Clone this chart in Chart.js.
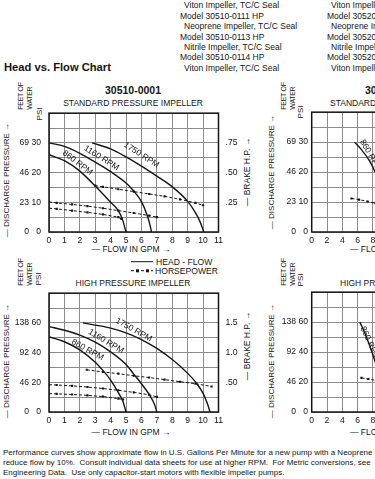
<!DOCTYPE html>
<html>
<head>
<meta charset="utf-8">
<script src="https://cdn.jsdelivr.net/npm/chart.js@4.4.1/dist/chart.umd.min.js"></script>
<style>
html, body { margin: 0; padding: 0; overflow: hidden; background: #fff; }
body { position: relative; width: 375px; height: 479px; font-family: "Liberation Sans", Arial, sans-serif; color: #151515; }
canvas { position: absolute; }
.t { position: absolute; white-space: nowrap; font-size: 8.5px; line-height: 1; }
.l { transform: translateY(-50%); }
.c { transform: translate(-50%, -50%); }
.r { transform: translate(-50%, -50%) rotate(-90deg); }
.b { font-weight: bold; }
.feet { font-size: 7px; line-height: 8.5px; letter-spacing: -0.3px; text-align: left; }
.p { font-size: 8px; left: 3px; }
</style>
</head>
<body>

<!-- model list -->
<div class="t l" style="left:184px;top:5px">Viton Impeller, TC/C Seal</div>
<div class="t l" style="left:180px;top:15.7px">Model 30510-0111 HP</div>
<div class="t l" style="left:184px;top:26px">Neoprene Impeller, TC/C Seal</div>
<div class="t l" style="left:180px;top:36.7px">Model 30510-0113 HP</div>
<div class="t l" style="left:184px;top:47px">Nitrile Impeller, TC/C Seal</div>
<div class="t l" style="left:180px;top:57.3px">Model 30510-0114 HP</div>
<div class="t l" style="left:184px;top:68.3px">Viton Impeller, TC/C Seal</div>

<div class="t l" style="left:331px;top:5px">Viton Impeller, TC/C Seal</div>
<div class="t l" style="left:327px;top:15.7px">Model 30520-0111 HP</div>
<div class="t l" style="left:331px;top:26px">Neoprene Impeller, TC/C Seal</div>
<div class="t l" style="left:327px;top:36.7px">Model 30520-0113 HP</div>
<div class="t l" style="left:331px;top:47px">Nitrile Impeller, TC/C Seal</div>
<div class="t l" style="left:327px;top:57.3px">Model 30520-0114 HP</div>
<div class="t l" style="left:331px;top:68.3px">Viton Impeller, TC/C Seal</div>

<div class="t l b" style="left:4px;top:68px;font-size:11.2px">Head vs. Flow Chart</div>

<!-- left column titles -->
<div class="t c b" style="left:133px;top:90px;font-size:10.5px">30510-0001</div>
<div class="t c" style="left:133px;top:102.5px">STANDARD PRESSURE IMPELLER</div>
<div class="t c" style="left:131px;top:249px">— FLOW IN GPM →</div>
<div class="t c" style="left:133px;top:282.5px">HIGH PRESSURE IMPELLER</div>
<div class="t c" style="left:131px;top:432px">— FLOW IN GPM →</div>

<div class="t r feet" style="left:25px;top:96px">FEET OF<br>WATER</div>
<div class="t r" style="left:40px;top:113.5px;font-size:8px">PSI</div>
<div class="t r" style="left:7px;top:180px;font-size:8px">— DISCHARGE PRESSURE →</div>
<div class="t r" style="left:247px;top:172px">— BRAKE H.P. →</div>

<div class="t r feet" style="left:25px;top:272px">FEET OF<br>WATER</div>
<div class="t r" style="left:39px;top:279px;font-size:8px">PSI</div>
<div class="t r" style="left:7px;top:361px;font-size:8px">— DISCHARGE PRESSURE →</div>
<div class="t r" style="left:247px;top:346px">— BRAKE H.P. →</div>

<!-- legend -->
<svg style="position:absolute;left:131px;top:257px" width="24" height="18">
  <line x1="0" y1="4.7" x2="22" y2="4.7" stroke="#151515" stroke-width="1"/>
  <line x1="0" y1="13.7" x2="22" y2="13.7" stroke="#151515" stroke-width="1" stroke-dasharray="3 2"/>
  <rect x="5" y="12.3" width="3" height="3" fill="#151515"/>
  <rect x="15" y="12.3" width="3" height="3" fill="#151515"/>
</svg>
<div class="t l" style="left:156px;top:261.7px;font-size:8.6px">HEAD - FLOW</div>
<div class="t l" style="left:155px;top:270.7px;font-size:8.6px">HORSEPOWER</div>

<!-- right column titles (cut off by the page edge) -->
<div class="t l b" style="left:365px;top:90px;font-size:10.5px">30520-0001</div>
<div class="t l" style="left:330px;top:102.5px">STANDARD PRESSURE IMPELLER</div>
<div class="t l" style="left:340px;top:282.5px">HIGH PRESSURE IMPELLER</div>
<div class="t l" style="left:350px;top:249px">— FLOW IN GPM →</div>
<div class="t l" style="left:350px;top:432px">— FLOW IN GPM →</div>

<div class="t r feet" style="left:288px;top:96px">FEET OF<br>WATER</div>
<div class="t r" style="left:301px;top:112px;font-size:8px">PSI</div>
<div class="t r" style="left:272px;top:172px;font-size:8px">— DISCHARGE PRESSURE →</div>
<div class="t r feet" style="left:288px;top:272px">FEET OF<br>WATER</div>
<div class="t r" style="left:301px;top:280px;font-size:8px">PSI</div>
<div class="t r" style="left:272px;top:361px;font-size:8px">— DISCHARGE PRESSURE →</div>

<canvas id="stdChart" width="260" height="150" style="left:0;top:100px"></canvas>
<canvas id="highChart" width="260" height="150" style="left:0;top:280px"></canvas>
<canvas id="stdChart2" width="260" height="150" style="left:262px;top:100px"></canvas>
<canvas id="highChart2" width="260" height="150" style="left:262px;top:280px"></canvas>

<div class="t l p" style="top:453px">Performance curves show approximate flow in U.S. Gallons Per Minute for a new pump with a Neoprene impeller. Nitrile and Viton impellers</div>
<div class="t l p" style="top:463px">reduce flow by 10%.&nbsp; Consult individual data sheets for use at higher RPM.&nbsp; For Metric conversions, see</div>
<div class="t l p" style="top:473px">Engineering Data.&nbsp; Use only capacitor-start motors with flexible impeller pumps.</div>

<script>
// [GPM, PSI]
const stdHead1750 = [[2.8, 30], [4, 28], [5, 25.3], [6, 22.2], [7, 18.8], [8, 15.2], [9, 10.3], [9.5, 6.5], [9.8, 3.5], [10.05, 0]];
const stdHead1160 = [[0, 30], [1, 28.8], [2, 26.5], [3, 23.5], [4, 20.3], [5, 16.5], [5.5, 13.8], [6, 10.2], [6.35, 5.9], [6.55, 2.5], [6.65, 0]];
const stdHead860 = [[0, 26], [1, 24], [2, 20.5], [3, 15.5], [3.5, 12.8], [4, 10], [4.45, 7.5], [4.75, 4.5], [5, 0]];
// [GPM, brake HP]
const stdHp1750 = [[3, 0.39], [3.5, 0.38], [4.5, 0.36], [5.5, 0.34], [6.5, 0.32], [7.5, 0.3], [8.5, 0.275], [9.5, 0.245], [10, 0.225]];
const stdHp1160 = [[0, 0.253], [0.5, 0.245], [1.5, 0.232], [2.5, 0.218], [3.5, 0.2], [4.5, 0.18], [5.5, 0.16], [6.5, 0.138], [7, 0.125]];
const stdHp860 = [[0, 0.2], [0.5, 0.195], [1.5, 0.18], [2.5, 0.165], [3.5, 0.148], [4.5, 0.125], [4.7, 0.11]];

const highHead1750 = [[2.2, 60], [3, 58.5], [4, 56.5], [5, 53.3], [6, 48.8], [7, 42.8], [8, 35.3], [9, 26], [9.6, 19], [10, 12.5], [10.3, 5], [10.45, 0]];
const highHead1160 = [[0, 57.5], [1, 55], [2, 51.7], [3, 47], [4, 40.5], [5, 32], [5.5, 25.5], [6, 19], [6.55, 11], [6.85, 5], [7, 0]];
const highHead860 = [[0, 50.5], [1, 47.3], [2, 41.8], [3, 33.5], [3.5, 28], [4, 21.5], [4.5, 13], [4.8, 7], [5, 0]];
const highHp1750 = [[2.45, 0.71], [3.5, 0.675], [4.5, 0.645], [5.5, 0.61], [6.5, 0.58], [7.5, 0.545], [8.5, 0.51], [9.5, 0.475], [10.55, 0.43]];
const highHp1160 = [[0, 0.46], [0.5, 0.455], [1.5, 0.44], [2.5, 0.42], [3.5, 0.395], [4.5, 0.365], [5.5, 0.33], [6.5, 0.29], [7, 0.255]];
const highHp860 = [[0, 0.31], [0.5, 0.305], [1.5, 0.295], [2.5, 0.28], [3.5, 0.26], [4.5, 0.225], [4.8, 0.21]];

// second pump, only the left part is on the page
const std2Head860 = [[5.6, 30], [6.5, 27.5], [7.5, 24], [8.3, 20], [9.5, 12], [10.3, 0]];
const std2Hp860 = [[5.2, 0.28], [6.2, 0.27], [7.3, 0.255], [8.3, 0.24], [9.5, 0.22]];
const high2Head860 = [[6.3, 60], [7, 52], [8, 38], [8.5, 30], [9.5, 10], [9.8, 0]];
const high2Hp860 = [[6.5, 0.57], [7.4, 0.55], [8.5, 0.525], [9.8, 0.49]];

// axis tick labels
const stdPsiTicks = [0, 10, 20, 30];
const stdFeetTicks = ['0', '23', '46', '69'];
const stdHpTicks = [0.25, 0.5, 0.75];
const stdHpLabels = ['.25', '.50', '.75'];
const highPsiTicks = [0, 20, 40, 60];
const highFeetTicks = ['0', '46', '92', '138'];
const highHpTicks = [0.5, 1, 1.5];
const highHpLabels = ['.50', '1.0', '1.5'];

// RPM captions along the curves: [GPM, PSI], angle in degrees
const stdRpmLabels = [
    { text: '1750 RPM', at: [6.0, 25.9], angle: 33 },
    { text: '1160 RPM', at: [3.4, 24.9], angle: 32 },
    { text: '860 RPM', at: [1.85, 23.3], angle: 37 }
];
const highRpmLabels = [
    { text: '1750 RPM', at: [5.5, 55.3], angle: 29 },
    { text: '1160 RPM', at: [3.7, 47.5], angle: 31 },
    { text: '860 RPM', at: [2.5, 41.8], angle: 29 }
];
const std2RpmLabels = [{ text: '860 RPM', at: [7.7, 25.5], angle: 60 }];
const high2RpmLabels = [{ text: '860 RPM', at: [7.6, 46], angle: 65 }];

Chart.defaults.font.family = '"Liberation Sans", Arial, sans-serif';
Chart.defaults.font.size = 8.6;
Chart.defaults.color = '#151515';

const INK = '#151515';
const GRID = '#8c8c8c';

// frame round the plot + rotated rpm captions
const curveText = {
    id: 'curveText',
    afterDatasetsDraw(chart, args, opts) {
        const { ctx, chartArea: a, scales } = chart;
        ctx.save();
        ctx.strokeStyle = INK;
        ctx.lineWidth = 1.5;
        ctx.strokeRect(a.left, a.top, a.right - a.left, a.bottom - a.top);
        ctx.fillStyle = INK;
        ctx.font = '8.5px "Liberation Sans", Arial, sans-serif';
        ctx.textAlign = 'center';
        ctx.textBaseline = 'middle';
        (opts.labels || []).forEach(l => {
            ctx.save();
            ctx.translate(scales.x.getPixelForValue(l.at[0]), scales.y.getPixelForValue(l.at[1]));
            ctx.rotate(l.angle * Math.PI / 180);
            ctx.fillText(l.text, 0, 0);
            ctx.restore();
        });
        ctx.restore();
    }
};

const pick = (list, labels, v) => {
    const i = list.findIndex(t => Math.abs(t - v) < 1e-6);
    return i < 0 ? '' : labels[i];
};
const toPoints = arr => arr.map(p => ({ x: p[0], y: p[1] }));

function pumpChart(id, o) {
    const datasets = [];
    o.head.forEach(h => datasets.push({
        data: toPoints(h), yAxisID: 'y', borderColor: INK, borderWidth: 1.4,
        pointRadius: 0, cubicInterpolationMode: 'monotone'
    }));
    o.hp.forEach(h => datasets.push({
        data: toPoints(h), yAxisID: 'hp', borderColor: INK, borderWidth: 1,
        borderDash: [3, 2], pointStyle: 'rect', pointRadius: 1.5,
        pointBackgroundColor: INK, pointBorderWidth: 0
    }));

    new Chart(document.getElementById(id), {
        type: 'line',
        data: { datasets },
        options: {
            responsive: false,
            animation: false,
            events: [],
            layout: { padding: o.pad },
            plugins: {
                legend: { display: false },
                tooltip: { enabled: false },
                curveText: { labels: o.labels }
            },
            scales: {
                x: {
                    type: 'linear', min: 0, max: o.flowMax,
                    ticks: { stepSize: o.flowStep, padding: 3, maxRotation: 0, autoSkip: false },
                    grid: { color: GRID, drawTicks: false },
                    border: { display: false },
                    afterFit: s => { s.height = 14; }
                },
                y: {
                    type: 'linear', position: 'left', weight: 0, min: 0, max: o.psiMax,
                    ticks: { stepSize: o.psiStep, padding: o.psiPad, autoSkip: false,
                        callback: v => pick(o.psiTicks, o.psiTicks.map(String), v) },
                    grid: { color: GRID, drawTicks: false },
                    border: { display: false },
                    afterFit: s => { s.width = o.psiW; }
                },
                feet: {
                    axis: 'y', type: 'linear', position: 'left', weight: 1, min: 0, max: o.psiMax,
                    ticks: { stepSize: o.psiStep, padding: o.feetPad, autoSkip: false,
                        callback: v => pick(o.psiTicks, o.feetTicks, v) },
                    grid: { display: false, drawTicks: false },
                    border: { display: false },
                    afterFit: s => { s.width = o.feetW; }
                },
                hp: {
                    axis: 'y', type: 'linear', position: 'right', min: 0, max: o.hpMax,
                    ticks: { stepSize: o.hpStep, padding: 7, autoSkip: false,
                        callback: v => pick(o.hpTicks, o.hpLabels, v) },
                    grid: { display: false, drawTicks: false },
                    border: { display: false },
                    afterFit: s => { s.width = 24; }
                }
            }
        },
        plugins: [curveText]
    });
}

const leftAxes = { psiW: 17, feetW: 32, psiPad: 8, feetPad: 3, flowMax: 11, flowStep: 1 };
const rightAxes = { psiW: 12.7, feetW: 37, psiPad: 3.7, feetPad: 3, flowMax: 22, flowStep: 2 };
const stdRange = { psiMax: 40, psiStep: 5, psiTicks: stdPsiTicks, feetTicks: stdFeetTicks,
    hpMax: 1, hpStep: 0.25, hpTicks: stdHpTicks, hpLabels: stdHpLabels };
const highRange = { psiMax: 80, psiStep: 10, psiTicks: highPsiTicks, feetTicks: highFeetTicks,
    hpMax: 2, hpStep: 0.5, hpTicks: highHpTicks, hpLabels: highHpLabels };

pumpChart('stdChart', Object.assign({}, leftAxes, stdRange, {
    pad: { left: 0, top: 9.2, right: 17.5, bottom: 4 },
    head: [stdHead1750, stdHead1160, stdHead860],
    hp: [stdHp1750, stdHp1160, stdHp860],
    labels: stdRpmLabels
}));
pumpChart('highChart', Object.assign({}, leftAxes, highRange, {
    pad: { left: 0, top: 9.3, right: 17.5, bottom: 4 },
    head: [highHead1750, highHead1160, highHead860],
    hp: [highHp1750, highHp1160, highHp860],
    labels: highRpmLabels
}));
pumpChart('stdChart2', Object.assign({}, rightAxes, stdRange, {
    pad: { left: 0, top: 9.2, right: 18, bottom: 4 },
    head: [std2Head860],
    hp: [std2Hp860],
    labels: std2RpmLabels
}));
pumpChart('highChart2', Object.assign({}, rightAxes, highRange, {
    pad: { left: 0, top: 9.3, right: 18, bottom: 4 },
    head: [high2Head860],
    hp: [high2Hp860],
    labels: high2RpmLabels
}));
</script>
</body>
</html>
